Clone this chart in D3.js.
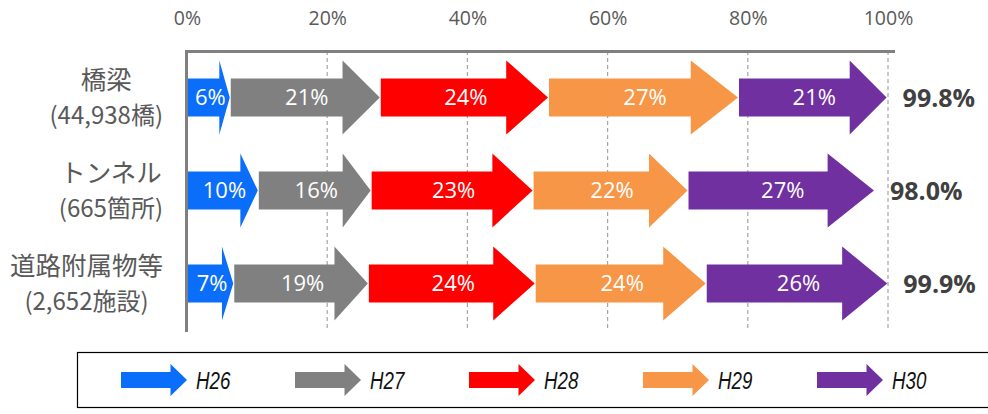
<!DOCTYPE html>
<html>
<head>
<meta charset="utf-8">
<script src="https://cdn.jsdelivr.net/npm/d3@7/dist/d3.min.js"></script>
<style>
  body { margin: 0; background: #fff; }
  svg { display: block; }
</style>
</head>
<body>
<div id="chart"></div>
<script>
// categories, each has two label lines
const categories = ["橋梁", "トンネル", "道路附属物等"];
const subLabels = ["(44,938橋)", "(665箇所)", "(2,652施設)"];
const seriesNames = ["H26", "H27", "H28", "H29", "H30"];
const seriesColors = ["#0A6EFA", "#808080", "#FF0000", "#F79646", "#7030A0"];
// share per year (%), one array per category
const bridgeVals = [6.1, 21.4, 24.0, 27.1, 21.2];
const tunnelVals = [10.1, 16.1, 23.1, 22.1, 26.6];
const facilityVals = [6.6, 19.2, 23.8, 24.4, 25.9];
const tickValues = [0, 20, 40, 60, 80, 100];

const rows = [bridgeVals, tunnelVals, facilityVals];

const width = 988, height = 414;
const svg = d3.select("#chart").append("svg")
  .attr("width", width)
  .attr("height", height);

const x = d3.scaleLinear().domain([0, 100]).range([187, 888]);
const y = d3.scaleBand().domain(categories).range([51, 330]);

const greyText = "#595959";

// gridlines (dashed)
svg.append("g")
  .selectAll("line")
  .data(tickValues.filter(d => d > 0))
  .join("line")
  .attr("x1", d => x(d)).attr("x2", d => x(d))
  .attr("y1", 51).attr("y2", 331)
  .attr("stroke", "#a6a6a6")
  .attr("stroke-width", 1.2)
  .attr("stroke-dasharray", "4,3");

// top axis labels
const axis = svg.append("g")
  .attr("transform", "translate(0,21)")
  .call(d3.axisTop(x).tickValues(tickValues).tickSize(0).tickFormat(d => d + "%"));
axis.select(".domain").remove();
axis.selectAll("text")
  .attr("dy", "0.35em")
  .attr("fill", greyText)
  .style("font-family", "'Open Sans', sans-serif")
  .style("font-size", "19.5px");

// frame lines: top and left
svg.append("line")
  .attr("x1", 186).attr("x2", 895)
  .attr("y1", 51.5).attr("y2", 51.5)
  .attr("stroke", "#808080").attr("stroke-width", 3);
svg.append("line")
  .attr("x1", 186.5).attr("x2", 186.5)
  .attr("y1", 50).attr("y2", 332)
  .attr("stroke", "#808080").attr("stroke-width", 3);

function arrowPath(x0, x1, cy, h, bh) {
  const head = (x1 - x0) * 0.25;
  const hx = x1 - head;
  return "M" + x0 + "," + (cy - bh / 2) +
    "L" + hx + "," + (cy - bh / 2) +
    "L" + hx + "," + (cy - h / 2) +
    "L" + x1 + "," + cy +
    "L" + hx + "," + (cy + h / 2) +
    "L" + hx + "," + (cy + bh / 2) +
    "L" + x0 + "," + (cy + bh / 2) + "Z";
}

const arrowH = 74, bodyH = 38;

rows.forEach((vals, i) => {
  const cy = y(categories[i]) + y.bandwidth() / 2;
  const g = svg.append("g");
  const cum = d3.cumsum(vals);
  const segs = vals.map((v, j) => ({ v: v, s: j ? cum[j - 1] : 0, e: cum[j], c: seriesColors[j] }));

  g.selectAll("path")
    .data(segs)
    .join("path")
    .attr("d", d => arrowPath(x(d.s) + 1, x(d.e), cy, arrowH, bodyH))
    .attr("fill", d => d.c);

  g.selectAll("text")
    .data(segs)
    .join("text")
    .attr("x", d => (x(d.s) + x(d.e)) / 2 + 2)
    .attr("y", cy)
    .attr("dy", "0.36em")
    .attr("text-anchor", "middle")
    .attr("fill", "#fff")
    .style("font-family", "'Open Sans', sans-serif")
    .style("font-size", "22px")
    .text(d => Math.round(d.v) + "%");

  // total at the tip
  const total = d3.sum(vals);
  svg.append("text")
    .attr("x", x(total) + 16)
    .attr("y", cy)
    .attr("dy", "0.36em")
    .attr("fill", "#404040")
    .style("font-family", "'Open Sans', sans-serif")
    .style("font-size", "25px")
    .style("font-weight", "bold")
    .text(d3.format(".1f")(total) + "%");

  // category label, two centered lines, block right-aligned
  const lg = svg.append("g");
  const lines = [categories[i], subLabels[i]];
  const t = lg.selectAll("text")
    .data(lines)
    .join("text")
    .attr("y", (d, k) => cy + (k === 0 ? -18 : 18))
    .attr("dy", "0.36em")
    .attr("text-anchor", "middle")
    .attr("fill", greyText)
    .style("font-family", "'Noto Sans CJK JP', 'Noto Sans', sans-serif")
    .style("font-size", (d, k) => k === 0 ? "25.5px" : "24px")
    .text(d => d);
  let maxW = 0;
  t.each(function() { maxW = Math.max(maxW, this.getComputedTextLength()); });
  t.attr("x", 163 - maxW / 2);
});

// legend
svg.append("rect")
  .attr("x", 77.5).attr("y", 352.5)
  .attr("width", 920).attr("height", 55)
  .attr("fill", "none")
  .attr("stroke", "#000")
  .attr("stroke-width", 1.2);

const lx = d3.scaleBand().domain(seriesNames).range([121, 121 + 174 * 5]);
const lg = svg.append("g").selectAll("g")
  .data(seriesNames)
  .join("g");
lg.append("path")
  .attr("d", d => arrowPath(lx(d), lx(d) + 66, 380, 32, 16))
  .attr("fill", (d, i) => seriesColors[i]);
// narrow italic look: squeeze the glyphs horizontally
lg.append("text")
  .attr("transform", d => "translate(" + (lx(d) + 75) + ",380) scale(0.78,1)")
  .attr("dy", "0.36em")
  .attr("fill", "#111")
  .style("font-family", "'Liberation Sans', Arial, sans-serif")
  .style("font-style", "italic")
  .style("font-size", "24px")
  .text(d => d);
</script>
</body>
</html>
